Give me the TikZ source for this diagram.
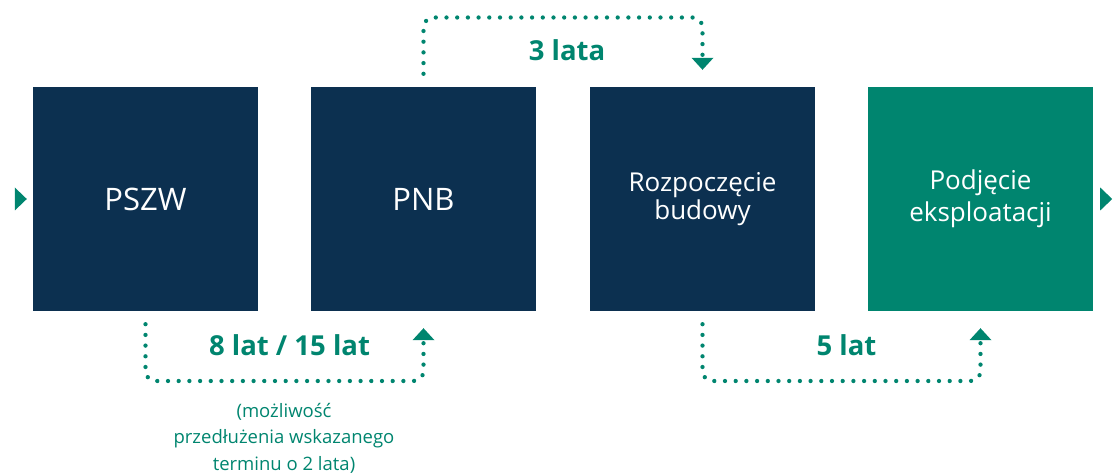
\documentclass[tikz,border=0pt]{standalone}
\usepackage{fontspec}
\setmainfont{Open Sans}
\usetikzlibrary{positioning, arrows.meta}
\definecolor{navyfill}{HTML}{0C3050}
\definecolor{stepgreen}{HTML}{00856F}

\begin{document}
\begin{tikzpicture}[x=1pt, y=-1pt,
    box/.style={minimum width=225pt, minimum height=224pt, inner sep=0pt, text=white, align=center},
    dots/.style={draw=stepgreen, line width=4.3pt, line cap=round, dash pattern=on 0pt off 10.7pt,
      rounded corners=10pt, shorten <=13pt, shorten >=8pt,
      -{Triangle[width=22pt, length=12pt, line width=0pt, sep=9pt]}},
    span/.style={text=stepgreen, inner sep=0pt, font=\bfseries\fontsize{27.5}{30}\selectfont},
    note/.style={text=stepgreen, inner sep=0pt, align=center, font=\fontsize{18.5}{26.5}\selectfont}]
    \useasboundingbox (0,0) rectangle (1114,473);
    % the four stages
    \node[box, fill=navyfill, font=\fontsize{31}{34}\selectfont] (pszw) at (145.5,199) {PSZW};
    \node[box, fill=navyfill, font=\fontsize{31}{34}\selectfont] (pnb) at (423.5,199) {PNB};
    \node[box, fill=navyfill, font=\fontsize{26}{27.6}\selectfont] (rozp) at (702.5,199) {Rozpoczęcie\\budowy};
    \node[box, fill=stepgreen, font=\fontsize{26}{32}\selectfont] (eksp) at (980.5,199) {Podjęcie\\eksploatacji};
    % in and out marks
    \fill[stepgreen] ([xshift=-6pt]pszw.west) ++(-12,-11.5) -- ++(12,11.5) -- ++(-12,11.5) -- cycle;
    \fill[stepgreen] ([xshift=7pt]eksp.east) ++(0,-11.5) -- ++(12,11.5) -- ++(-12,11.5) -- cycle;
    % time spans
    \coordinate (over) at (564,17.5);
    \coordinate (under1) at (284,381);
    \coordinate (under2) at (843,381);
    \draw[dots] (pnb.north) |- (over) -| (rozp.north);
    \draw[dots] (pszw.south) |- (under1) -| (pnb.south);
    \draw[dots] (rozp.south) |- (under2) -| (eksp.south);
    \node[span] (three) at (567,50) {3 lata};
    \node[span] (eightfifteen) at (289.5,345) {8 lat / 15 lat};
    \node[span] (five) at (846.5,345) {5 lat};
    \node[note, anchor=north] (ext) at (284,403) {(możliwość\\przedłużenia wskazanego\\terminu o 2 lata)};
\end{tikzpicture}
\end{document}
